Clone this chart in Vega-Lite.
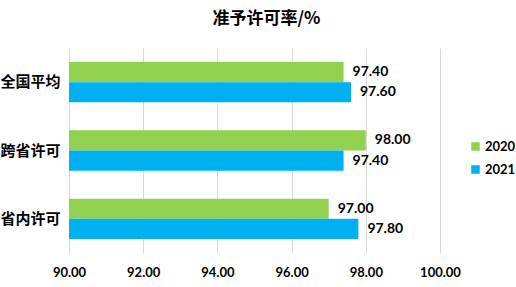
{
  "$schema": "https://vega.github.io/schema/vega-lite/v6.json",
  "autosize": {"type": "none"},
  "padding": {"left": 69, "top": 48, "right": 76, "bottom": 34},
  "width": 371,
  "height": 205,
  "background": "white",
  "config": {"view": {"stroke": null}},
  "title": {
    "text": "准予许可率/%",
    "font": "Noto Sans CJK SC",
    "fontSize": 17,
    "fontWeight": "bold",
    "color": "#000000",
    "anchor": "middle",
    "dx": 12,
    "offset": 20
  },
  "data": {
    "values": [
      {"cat": "全国平均", "year": "2020", "rate": 97.4},
      {"cat": "全国平均", "year": "2021", "rate": 97.6},
      {"cat": "跨省许可", "year": "2020", "rate": 98.0},
      {"cat": "跨省许可", "year": "2021", "rate": 97.4},
      {"cat": "省内许可", "year": "2020", "rate": 97.0},
      {"cat": "省内许可", "year": "2021", "rate": 97.8}
    ]
  },
  "encoding": {
    "y": {
      "field": "cat",
      "type": "nominal",
      "sort": ["全国平均", "跨省许可", "省内许可"],
      "scale": {"paddingInner": 0.41, "paddingOuter": 0.206},
      "axis": {
        "title": null,
        "domain": false,
        "ticks": false,
        "labelFont": "Noto Sans CJK SC",
        "labelFontSize": 15,
        "labelFontWeight": "bold",
        "labelColor": "#000000",
        "labelPadding": 9
      }
    },
    "yOffset": {
      "field": "year",
      "type": "nominal",
      "sort": ["2020", "2021"],
      "scale": {"paddingInner": 0, "paddingOuter": 0}
    },
    "x": {
      "field": "rate",
      "type": "quantitative",
      "scale": {"domain": [90, 100], "zero": false, "nice": false},
      "axis": {
        "title": null,
        "values": [90, 92, 94, 96, 98, 100],
        "format": ".2f",
        "domain": false,
        "ticks": false,
        "grid": true,
        "gridColor": "#d9d9d9",
        "gridWidth": 1,
        "labelFlush": false,
        "labelFont": "Lato",
        "labelFontSize": 13,
        "labelFontWeight": "bold",
        "labelColor": "#000000",
        "labelPadding": 13
      }
    }
  },
  "layer": [
    {
      "mark": {"type": "bar"},
      "encoding": {
        "x2": {"datum": 90},
        "color": {
          "field": "year",
          "type": "nominal",
          "scale": {"domain": ["2020", "2021"], "range": ["#92D050", "#00B0F0"]},
          "legend": {
            "title": null,
            "orient": "none",
            "legendX": 400,
            "legendY": 92,
            "padding": 0,
            "symbolType": "square",
            "symbolSize": 72,
            "symbolStrokeWidth": 0,
            "symbolOpacity": 1,
            "rowPadding": 9,
            "labelFont": "Lato",
            "labelFontSize": 13,
            "labelFontWeight": "bold",
            "labelColor": "#000000",
            "labelOffset": 3
          }
        }
      }
    },
    {
      "mark": {
        "type": "text",
        "align": "left",
        "baseline": "middle",
        "dx": 9,
        "font": "Lato",
        "fontSize": 14,
        "fontWeight": "bold",
        "color": "#000000"
      },
      "encoding": {
        "text": {"field": "rate", "type": "quantitative", "format": ".2f"}
      }
    }
  ]
}
